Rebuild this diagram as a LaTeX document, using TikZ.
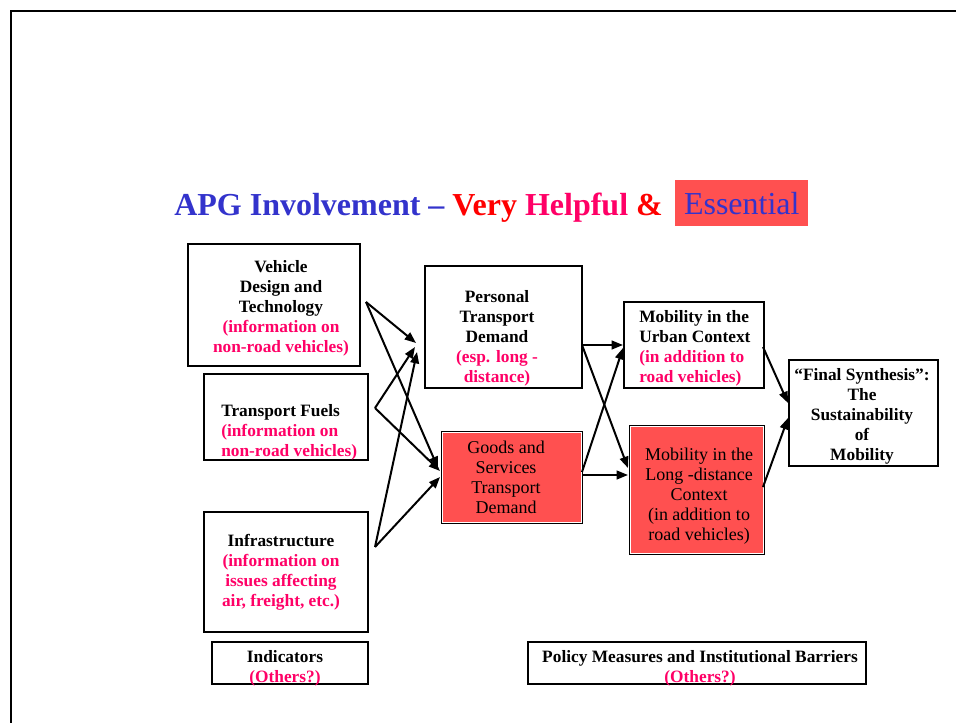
\documentclass[tikz,border=0pt]{standalone}
\usepackage{fontspec}
\setmainfont{Liberation Serif}
\usetikzlibrary{arrows.meta,calc}
\definecolor{pk}{HTML}{FF0066}
\definecolor{bxred}{HTML}{FF5050}
\definecolor{tb}{HTML}{3333CC}
\definecolor{tr}{HTML}{FF0000}
\begin{document}
\begin{tikzpicture}[x=0.75pt,y=-0.75pt,
  frameline/.style={line width=1.5pt},
  box/.style 2 args={draw, line width=1.5pt, anchor=north west, inner sep=0pt,
    minimum width=#1*0.75pt, minimum height=#2*0.75pt},
  redbox/.style 2 args={box={#1}{#2}, fill=bxred},
  inset/.style={draw=white, line width=0.7pt},
  bt/.style={font=\fontsize{13}{15}\selectfont\bfseries, align=center, inner sep=0pt},
  rt/.style={font=\fontsize{13.5}{15}\selectfont, align=center, inner sep=0pt},
  conn/.style={line width=1.5pt, -{Triangle[length=8.5pt,width=6.5pt]}}
]
\useasboundingbox (0,0) rectangle (956,723);
% frame
\coordinate (fr1) at (11,730);
\coordinate (fr2) at (11,11);
\coordinate (fr3) at (960,11);
\draw[frameline] (fr1) -- (fr2) -- (fr3);

% title
\node[anchor=base west, inner sep=0pt, font=\fontsize{24}{28}\selectfont\bfseries] (title) at (174,216)
  {\textcolor{tb}{APG Involvement –} \textcolor{tr}{Very} \textcolor{pk}{Helpful} \textcolor{tr}{\&}};
\node[anchor=north west, fill=bxred, inner sep=0pt, minimum width=133*0.75pt, minimum height=46*0.75pt,
  font=\fontsize{24}{28}\selectfont, text=tb] (ess) at (675,180) {Essential};

% boxes
\node[box={172}{122}] (veh) at (187,243) {};
\node[box={164}{86}] (fue) at (203,373) {};
\node[box={164}{120}] (inf) at (203,511) {};
\node[box={157}{122}] (per) at (424,265) {};
\node[redbox={140}{91}] (gds) at (441,431) {};
\node[box={140}{86}] (urb) at (623,301) {};
\node[redbox={134}{128}] (lng) at (629,425) {};
\node[box={149}{106}] (fin) at (788,359) {};
\node[box={156}{42}] (ind) at (211,641) {};
\node[box={338}{42}] (pol) at (527,641) {};
\draw[inset] ($(gds.north west)+(1.8,1.8)$) rectangle ($(gds.south east)+(-1.8,-1.8)$);
\draw[inset] ($(lng.north west)+(1.8,1.8)$) rectangle ($(lng.south east)+(-1.8,-1.8)$);

% texts
\node[bt] (vehT) at (281,308) {Vehicle\\Design and\\Technology\\\textcolor{pk}{(information on}\\\textcolor{pk}{non-road vehicles)}};
\node[bt, align=left, anchor=west] (fueT) at (221,432.5) {Transport Fuels\\\textcolor{pk}{(information on}\\\textcolor{pk}{non-road vehicles)}};
\node[bt] (infT) at (281,572) {Infrastructure\\\textcolor{pk}{(information on}\\\textcolor{pk}{issues affecting}\\\textcolor{pk}{air, freight, etc.)}};
\node[bt] (perT) at (497,338) {Personal\\Transport\\Demand\\\textcolor{pk}{(esp. long -}\\\textcolor{pk}{distance)}};
\node[rt] (gdsT) at (506,477.5) {Goods and\\Services\\ Transport\\ Demand};
\node[bt, align=left, anchor=west] (urbT) at (639,348.5) {Mobility in the\\Urban Context\\\textcolor{pk}{(in addition to}\\\textcolor{pk}{road vehicles)}};
\node[rt] (lngT) at (699,496) {Mobility in the\\Long -distance\\Context\\(in addition to\\road vehicles)};
\node[bt] (finT) at (862,416.5) {“Final Synthesis”:\\The\\Sustainability\\of\\Mobility};
\node[bt] (indT) at (285,668) {Indicators\\\textcolor{pk}{(Others?)}};
\node[bt] (polT) at (700,668) {Policy Measures and Institutional Barriers\\\textcolor{pk}{(Others?)}};

% connector points
\coordinate (vS) at (366,302);
\coordinate (fS) at (375,408);
\coordinate (iS) at (375,547);
\coordinate (pT1) at (416,343);
\coordinate (pT2) at (415,347);
\coordinate (pT3) at (417,352);
\coordinate (gT1) at (438,468);
\coordinate (gT2) at (440,471);
\coordinate (gT3) at (440,477);
\coordinate (pS) at (582,345);
\coordinate (gS1) at (582,472);
\coordinate (gS2) at (582,475);
\coordinate (uT1) at (623,345);
\coordinate (uT2) at (623,348);
\coordinate (lT1) at (628,468);
\coordinate (lT2) at (628,475);
\coordinate (uS) at (763,347);
\coordinate (lS) at (763,487);
\coordinate (sT1) at (788,403);
\coordinate (sT2) at (788,418);

\draw[conn] (vS) -- (pT1);
\draw[conn] (vS) -- (gT1);
\draw[conn] (fS) -- (pT2);
\draw[conn] (fS) -- (gT2);
\draw[conn] (iS) -- (pT3);
\draw[conn] (iS) -- (gT3);
\draw[conn] (pS) -- (uT1);
\draw[conn] (pS) -- (lT1);
\draw[conn] (gS1) -- (uT2);
\draw[conn] (gS2) -- (lT2);
\draw[conn] (uS) -- (sT1);
\draw[conn] (lS) -- (sT2);
\end{tikzpicture}
\end{document}
